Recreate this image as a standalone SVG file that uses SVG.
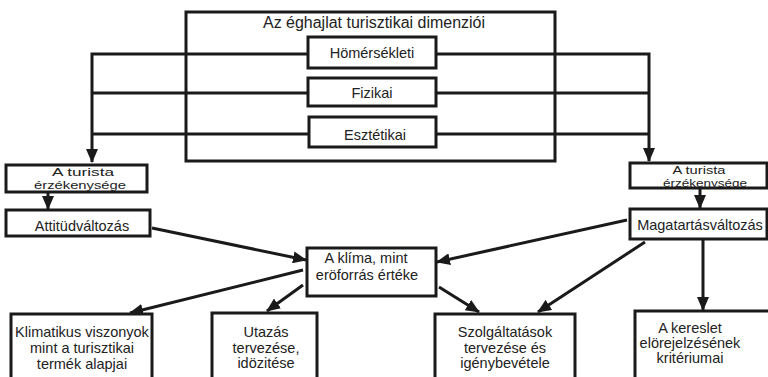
<svg xmlns="http://www.w3.org/2000/svg" width="768" height="377" viewBox="0 0 768 377">
<style>
.box{fill:#fff;stroke:#1a1a1a;stroke-width:3}
.frame{fill:none;stroke:#1a1a1a;stroke-width:3}
.t{font-family:"Liberation Sans",Arial,sans-serif;font-size:14.5px;fill:#222;text-anchor:middle}
.s{font-size:11px}
.h{font-size:16px}
.c{fill:none;stroke:#1a1a1a;stroke-width:3}
</style>
<defs>
<marker id="ah" markerUnits="userSpaceOnUse" markerWidth="14" markerHeight="12" refX="13" refY="6" orient="auto">
<path d="M0,0 L14,6 L0,12 z" fill="#1a1a1a"/>
</marker>
</defs>
<g id="connectors">
<path class="c" d="M308 54 H92 V162" marker-end="url(#ah)"/>
<path class="c" d="M308 93 H92"/>
<path class="c" d="M308 134 H92"/>
<path class="c" d="M436 54 H649 V161" marker-end="url(#ah)"/>
<path class="c" d="M436 93 H649"/>
<path class="c" d="M436 134 H649"/>
<path class="c" d="M48 192 V209" marker-end="url(#ah)"/>
<path class="c" d="M700 188 V208" marker-end="url(#ah)"/>
<path class="c" d="M152 228 L306 260" marker-end="url(#ah)"/>
<path class="c" d="M627 220 L437 262" marker-end="url(#ah)"/>
<path class="c" d="M303 270 L130 313" marker-end="url(#ah)"/>
<path class="c" d="M303 285 L267 311" marker-end="url(#ah)"/>
<path class="c" d="M439 287 L479 312" marker-end="url(#ah)"/>
<path class="c" d="M645 242 L538 312" marker-end="url(#ah)"/>
<path class="c" d="M703 239 V310" marker-end="url(#ah)"/>
</g>
<g id="dimenziok">
<rect class="frame" x="186" y="12" width="369" height="149"/>
<text class="t h" x="374" y="28" textLength="222" lengthAdjust="spacingAndGlyphs">Az éghajlat turisztikai dimenziói</text>
</g>
<g id="homersekleti">
<rect class="box" x="308" y="37" width="128" height="31"/>
<text class="t" x="372" y="58">Hömérsékleti</text>
</g>
<g id="fizikai">
<rect class="box" x="308" y="78" width="128" height="28"/>
<text class="t" x="372" y="98">Fizikai</text>
</g>
<g id="esztetikai">
<rect class="box" x="309" y="117" width="127" height="30"/>
<text class="t" x="375" y="140">Esztétikai</text>
</g>
<g id="turista-bal">
<rect class="box" x="6" y="165" width="141" height="27"/>
<text class="t s" x="83" y="176" textLength="62" lengthAdjust="spacingAndGlyphs">A turista</text>
<text class="t s" x="80" y="189" textLength="92" lengthAdjust="spacingAndGlyphs">érzékenysége</text>
</g>
<g id="attitud">
<rect class="box" x="6" y="210" width="144" height="26"/>
<text class="t" x="82" y="231">Attitüdváltozás</text>
</g>
<g id="turista-jobb">
<rect class="box" x="630" y="163" width="137" height="25"/>
<text class="t s" x="699" y="174" textLength="53" lengthAdjust="spacingAndGlyphs">A turista</text>
<text class="t s" x="705" y="186.5" textLength="84" lengthAdjust="spacingAndGlyphs">érzékenysége</text>
</g>
<g id="magatartas">
<rect class="box" x="630" y="209" width="137" height="30"/>
<text class="t" x="700" y="230">Magatartásváltozás</text>
</g>
<g id="klima">
<rect class="box" x="307" y="248" width="129" height="48"/>
<text class="t" x="366" y="263">A klíma, mint</text>
<text class="t" x="367" y="280">eröforrás értéke</text>
</g>
<g id="klimatikus">
<rect class="box" x="11" y="314" width="141" height="70"/>
<text class="t" x="82" y="337">Klimatikus viszonyok</text>
<text class="t" x="82" y="353">mint a turisztikai</text>
<text class="t" x="82" y="369">termék alapjai</text>
</g>
<g id="utazas">
<rect class="box" x="212" y="313" width="105" height="70"/>
<text class="t" x="266" y="337">Utazás</text>
<text class="t" x="266" y="353">tervezése,</text>
<text class="t" x="266" y="368">idözitése</text>
</g>
<g id="szolgaltatasok">
<rect class="box" x="435" y="314" width="140" height="70"/>
<text class="t" x="505" y="337">Szolgáltatások</text>
<text class="t" x="505" y="353">tervezése és</text>
<text class="t" x="505" y="368">igénybevétele</text>
</g>
<g id="kereslet">
<rect class="box" x="635" y="311" width="140" height="73"/>
<text class="t" x="690" y="333">A kereslet</text>
<text class="t" x="690" y="348">elörejelzésének</text>
<text class="t" x="690" y="363">kritériumai</text>
</g>
</svg>
